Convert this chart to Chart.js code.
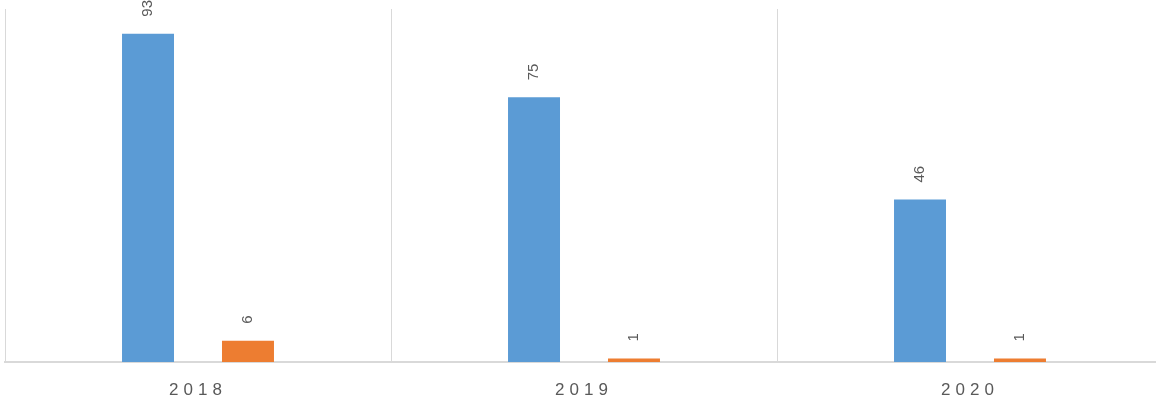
<!DOCTYPE html>
<html>
<head>
<meta charset="utf-8">
<script src="https://cdn.jsdelivr.net/npm/chart.js@4"></script>
<style>
  html, body { margin: 0; padding: 0; background: #fff; overflow: hidden; }
  #wrap { width: 1170px; height: 402px; }
</style>
</head>
<body>
<div id="wrap"><canvas id="chart"></canvas></div>
<script>
const years = ["2018", "2019", "2020"];
const seriesA = [93, 75, 46];
const seriesB = [6, 1, 1];
const yTicks = [0, 100];

const BLUE = "#5B9BD5";
const ORANGE = "#ED7D31";
const GRID = "#D9D9D9";
const TEXT = "#595959";

// écartement des chiffres sous l'axe : on l'applique seulement pendant le dessin des échelles
const tickSpacing = {
  id: "tickSpacing",
  beforeDraw(chart) { chart.ctx.letterSpacing = "5px"; },
  beforeDatasetsDraw(chart) { chart.ctx.letterSpacing = "0px"; }
};

// valeurs écrites à la verticale au-dessus de chaque barre
const verticalLabels = {
  id: "verticalLabels",
  afterDatasetsDraw(chart) {
    const ctx = chart.ctx;
    ctx.save();
    ctx.font = "15px 'Liberation Sans', Arial, sans-serif";
    ctx.fillStyle = TEXT;
    ctx.textAlign = "left";
    ctx.textBaseline = "middle";
    chart.data.datasets.forEach((ds, i) => {
      chart.getDatasetMeta(i).data.forEach((bar, j) => {
        ctx.save();
        ctx.translate(bar.x, bar.y - 17);
        ctx.rotate(-Math.PI / 2);
        ctx.fillText(String(ds.data[j]), 0, 0);
        ctx.restore();
      });
    });
    ctx.restore();
  }
};

new Chart(document.getElementById("chart"), {
  type: "bar",
  data: {
    labels: years,
    datasets: [
      { data: seriesA, backgroundColor: BLUE },
      { data: seriesB, backgroundColor: ORANGE }
    ]
  },
  options: {
    responsive: true,
    maintainAspectRatio: false,
    animation: false,
    categoryPercentage: 0.518,
    barPercentage: 0.52,
    layout: { padding: { left: 5, top: 9, right: 7, bottom: 0 } },
    plugins: { legend: { display: false }, tooltip: { enabled: false } },
    scales: {
      x: {
        grid: { color: GRID, lineWidth: 1, drawTicks: false, offset: true },
        border: { color: GRID, width: 2 },
        ticks: {
          color: TEXT,
          padding: 18,
          font: { family: "'Liberation Sans', Arial, sans-serif", size: 17 }
        },
        afterFit(scale) { scale.height = 40; }
      },
      y: {
        display: false,
        min: yTicks[0],
        max: yTicks[yTicks.length - 1]
      }
    }
  },
  plugins: [tickSpacing, verticalLabels]
});
</script>
</body>
</html>
